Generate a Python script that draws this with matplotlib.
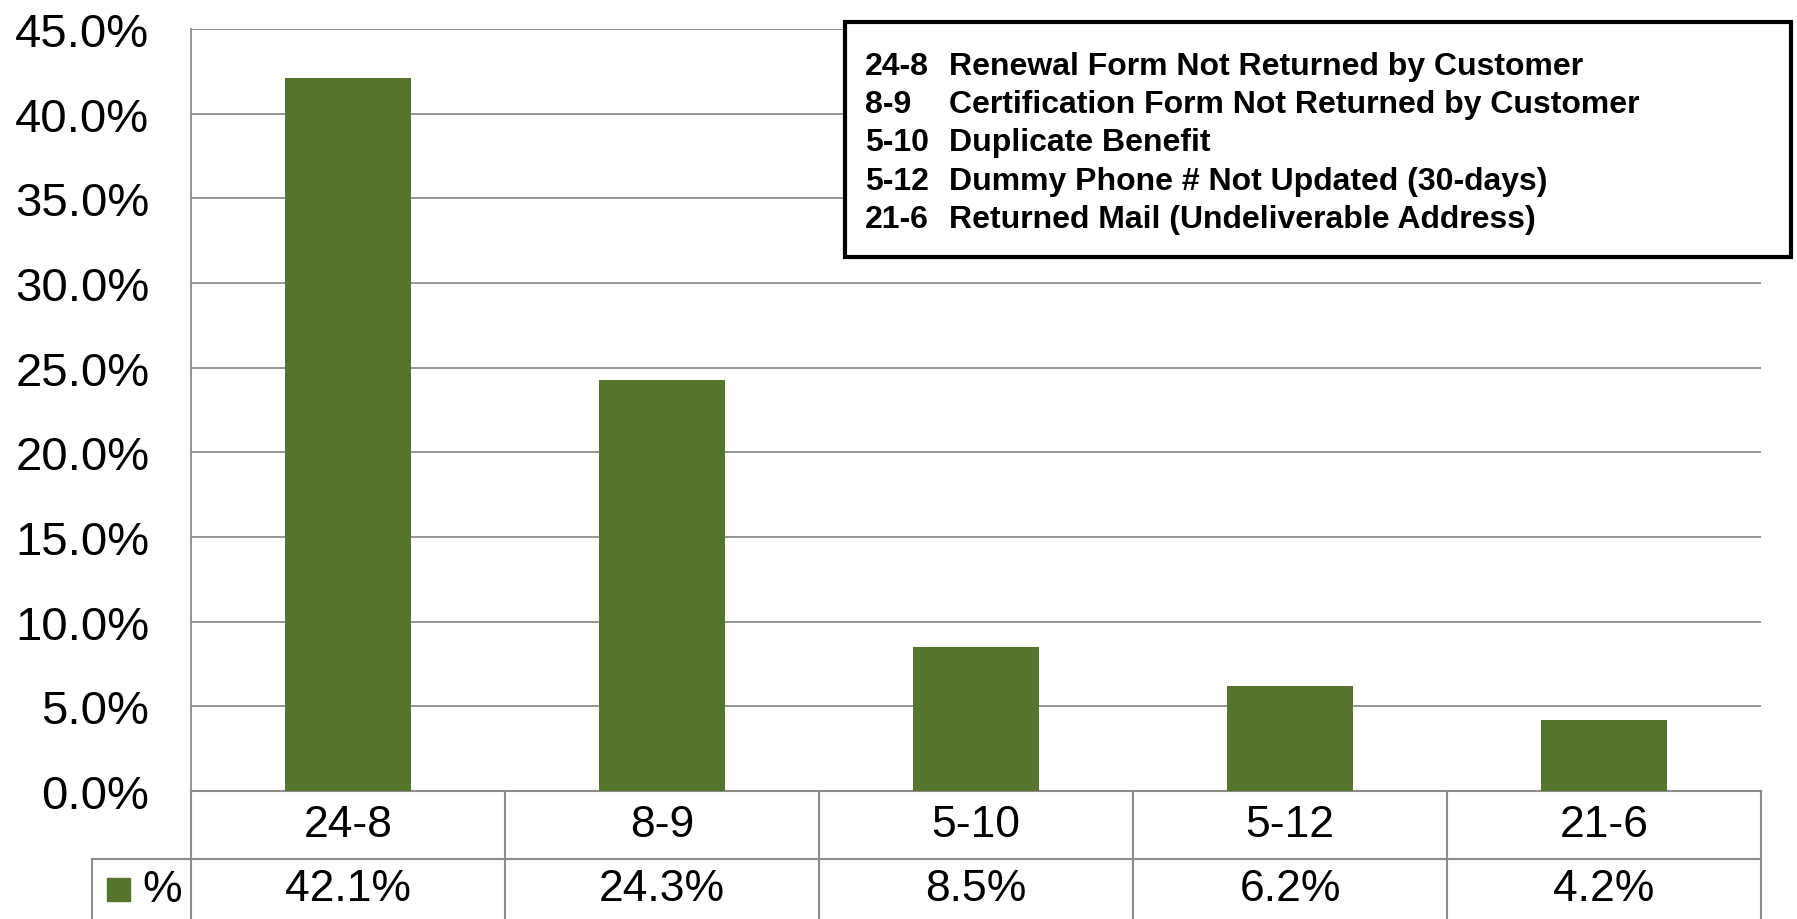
"""Share of closure reasons by code, bar chart with a data table underneath."""

import matplotlib

matplotlib.use("Agg")
import matplotlib.pyplot as plt
from matplotlib.patches import Rectangle
from matplotlib.ticker import FuncFormatter

plt.rcParams["font.family"] = ["Liberation Sans", "DejaVu Sans"]

CODES = ["24-8", "8-9", "5-10", "5-12", "21-6"]
SHARES = [42.1, 24.3, 8.5, 6.2, 4.2]
DESCRIPTIONS = [
    "Renewal Form Not Returned by Customer",
    "Certification Form Not Returned by Customer",
    "Duplicate Benefit",
    "Dummy Phone # Not Updated (30-days)",
    "Returned Mail (Undeliverable Address)",
]
Y_TICKS = [0, 5, 10, 15, 20, 25, 30, 35, 40, 45]
SERIES_NAME = "%"

BAR_COLOR = "#55752d"
GRID_COLOR = "#8c8c8c"

W, H = 1797, 920


def fx(px):
    return px / W


def fy(py):
    return 1 - py / H


fig = plt.figure(figsize=(W / 100, H / 100), dpi=100)
left, right, top, bottom = 191, 1761, 30, 792
ax = fig.add_axes((fx(left), fy(bottom), fx(right - left), (bottom - top) / H))

x = list(range(len(CODES)))
ax.bar(x, SHARES, width=0.4, color=BAR_COLOR, zorder=3)
ax.set_xlim(-0.5, len(CODES) - 0.5)
ax.set_ylim(0, 45)
ax.set_yticks(Y_TICKS)
ax.yaxis.set_major_formatter(FuncFormatter(lambda v, _: f"{v:.1f}%"))
ax.tick_params(axis="y", length=0, pad=30, labelsize=34)
ax.set_xticks([])
ax.grid(axis="y", color=GRID_COLOR, linewidth=1.3, zorder=0)
for side in ("top", "right", "bottom"):
    ax.spines[side].set_visible(False)
ax.spines["left"].set_color(GRID_COLOR)
ax.spines["left"].set_linewidth(1.3)

# data table below the axis
axis_h = bottom - top
row1 = -(860 - bottom) / axis_h
row2 = -(H - bottom + 5) / axis_h
value_mid = -((860 + 920) / 2 - bottom) / axis_h
xt = ax.get_xaxis_transform()
line_kw = dict(color=GRID_COLOR, linewidth=1.5, clip_on=False, transform=xt)
ax.plot([-0.5, len(CODES) - 0.5], [0, 0], **line_kw)
ax.plot([-0.5, len(CODES) - 0.5], [row1, row1], **line_kw)
for b in range(len(CODES) + 1):
    ax.plot([b - 0.5, b - 0.5], [0, row2], **line_kw)
for i, (code, share) in enumerate(zip(CODES, SHARES)):
    ax.text(i, row1 / 2, code, transform=xt, ha="center", va="center",
            fontsize=32, clip_on=False)
    ax.text(i, value_mid, f"{share:.1f}%", transform=xt, ha="center",
            va="center", fontsize=32, clip_on=False)

# series key cell at the left of the value row
fig.add_artist(plt.Line2D([fx(92), fx(191)], [fy(860), fy(860)],
                          color=GRID_COLOR, linewidth=1.5))
fig.add_artist(plt.Line2D([fx(92), fx(92)], [fy(860), 0],
                          color=GRID_COLOR, linewidth=1.5))
fig.add_artist(Rectangle((fx(107), fy(902)), fx(23), 23 / H,
                         transform=fig.transFigure, color=BAR_COLOR))
fig.text(fx(142), fy(891), SERIES_NAME, fontsize=32, va="center", ha="left")

# code legend box
fig.add_artist(Rectangle((fx(845), fy(258)), fx(1791 - 845), (258 - 23) / H,
                         transform=fig.transFigure, facecolor="white",
                         edgecolor="black", linewidth=3, zorder=5))
for k, (code, desc) in enumerate(zip(CODES, DESCRIPTIONS)):
    yy = fy(67 + k * 38.2)
    fig.text(fx(865), yy, code, fontsize=23, fontweight="bold",
             va="center", ha="left", zorder=6)
    fig.text(fx(949), yy, desc, fontsize=23, fontweight="bold",
             va="center", ha="left", zorder=6)

fig.savefig("out.png", dpi=100)
